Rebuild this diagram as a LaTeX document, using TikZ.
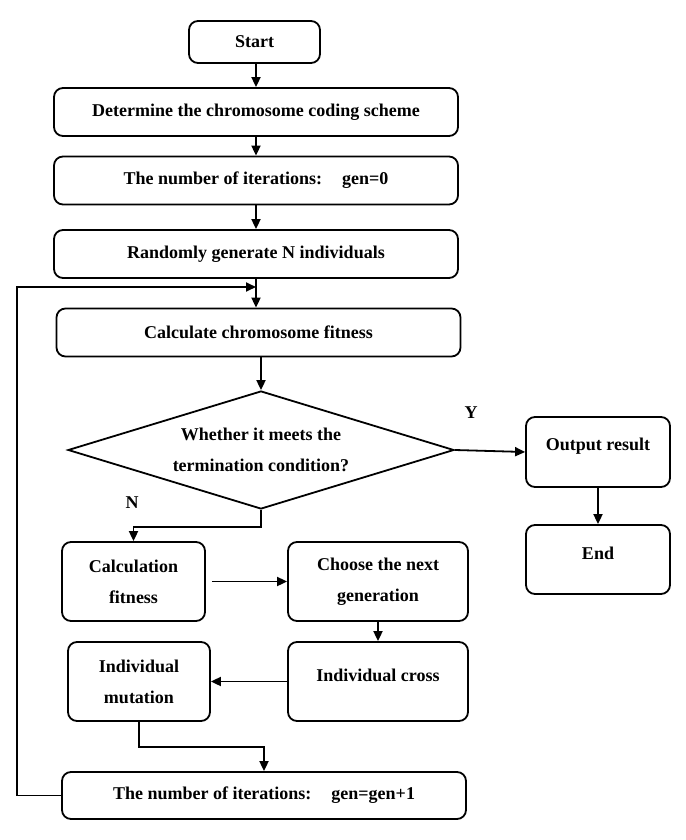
\documentclass[tikz,border=0pt]{standalone}
\usepackage{fontspec}
\setmainfont{Liberation Serif}
\usetikzlibrary{shapes.geometric,arrows.meta}
\newcommand{\upshift}[1]{\raisebox{6pt}[\height][\depth]{#1}}
\begin{document}
\begin{tikzpicture}[x=1pt,y=-1pt,line width=1.8pt,
    txt/.style={font=\bfseries\fontsize{18}{31}\selectfont},
    box/.style={txt,draw,rounded corners=9pt,align=center,inner sep=0pt},
    wide/.style={box,minimum width=404pt,minimum height=48pt},
    small/.style={box,minimum width=143pt,minimum height=79pt},
    flow/.style={-{Triangle[length=10pt,width=9pt]}}]
  \useasboundingbox (0,0) rectangle (685,840);
  \node[box,minimum width=131pt,minimum height=42pt] (start) at (254.5,42) {Start};
  \node[wide] (coding) at (256,112) {Determine the chromosome coding scheme};
  \node[wide] (gen0) at (256,180.5) {The number of iterations:\hspace{20pt}gen=0};
  \node[wide] (init) at (256,254) {Randomly generate N individuals};
  \node[wide] (fitness) at (258.5,332.5) {Calculate chromosome fitness};
  \node[box,diamond,sharp corners,aspect=3.27,minimum width=386pt,minimum height=118pt] (cond) at (261,450)
    {Whether it meets the\\termination condition?};
  \node[box,minimum width=144pt,minimum height=70pt] (out) at (598,452) {\upshift{Output result}};
  \node[box,minimum width=144pt,minimum height=69pt] (stop) at (598,559.5) {\upshift{End}};
  \node[small] (calfit) at (133.5,581.5) {Calculation\\fitness};
  \node[small,minimum width=180pt] (select) at (378,581.5) {Choose the next\\generation};
  \node[small,minimum width=180pt] (cross) at (378,681.5) {\upshift{Individual cross}};
  \node[small,minimum width=142pt] (mutate) at (139,681.5) {Individual\\mutation};
  \node[wide,minimum height=47pt] (gen1) at (264,795.5) {The number of iterations:\hspace{20pt}gen=gen+1};
  \node[txt] (ylab) at (471,413) {Y};
  \node[txt] (nlab) at (132,503) {N};
  \coordinate (corner) at (17,287);
  \coordinate (join) at (256,287);

  \draw[flow] (start.south -| coding) -- (coding.north);
  \draw[flow] (coding) -- (gen0);
  \draw[flow] (gen0) -- (init);
  \draw[flow] (init.south) -- (init.south |- fitness.north);
  \draw[flow] (gen1.west) -| (corner) -- (join);
  \draw[flow] (fitness.south -| cond.north) -- (cond.north);
  \draw[flow] (cond.east) -- (out.west);
  \draw[flow] (out) -- (stop);
  \draw[flow] (cond.south) -- ++(0,17) -| (calfit.north);
  \draw[flow,shorten <=6pt] (calfit.east) -- (select.west);
  \draw[flow] (select) -- (cross);
  \draw[flow] (cross.west) -- (mutate.east);
  \draw[flow] (mutate.south) -- ++(0,25) -| (gen1.north);
\end{tikzpicture}
\end{document}
